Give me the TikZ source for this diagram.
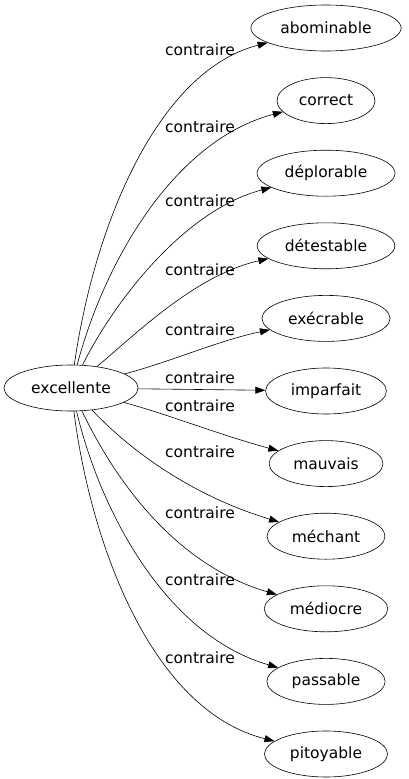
\documentclass[tikz,border=0pt]{standalone}
\usepackage{fontspec}
\setmainfont{DejaVu Sans}
\usepackage{tikz}
\usetikzlibrary{shapes.geometric, arrows.meta, positioning}

\begin{document}
\begin{tikzpicture}[
    x=1pt, y=-1pt,
    node distance=26pt,
    word/.style={ellipse, draw, inner xsep=7.5pt, minimum height=46pt, font=\fontsize{15.5}{18}\selectfont},
    arrow/.style={-{Triangle[length=10pt, width=7pt]}, line width=0.6pt},
    rel/.style={font=\fontsize{15.5}{18}\selectfont, inner sep=1pt}
]
\useasboundingbox (0,0) rectangle (408,779);

\node[word, line width=0.6pt] (exc) at (71,388) {excellente};
\node[word, line width=0.6pt] (abo) at (326,28) {abominable};
\node[word, line width=0.6pt, below=of abo] (cor) {correct};
\node[word, line width=0.6pt, below=of cor] (dep) {déplorable};
\node[word, line width=0.6pt, below=of dep] (det) {détestable};
\node[word, line width=0.6pt, below=of det] (exe) {exécrable};
\node[word, line width=0.6pt, below=of exe] (imp) {imparfait};
\node[word, line width=0.6pt, below=of imp] (mau) {mauvais};
\node[word, line width=0.6pt, below=of mau] (mec) {méchant};
\node[word, line width=0.6pt, below=of mec] (med) {médiocre};
\node[word, line width=0.6pt, below=of med] (pas) {passable};
\node[word, line width=0.6pt, below=of pas] (pit) {pitoyable};

% edge labels
\node[rel] (l1) at (200,50) {contraire};
\node[rel] (l2) at (200,127) {contraire};
\node[rel] (l3) at (200,201) {contraire};
\node[rel] (l4) at (200,270) {contraire};
\node[rel] (l5) at (200,330) {contraire};
\node[rel] (l6) at (200,378) {contraire};
\node[rel] (l7) at (200,406) {contraire};
\node[rel] (l8) at (200,452) {contraire};
\node[rel] (l9) at (200,513) {contraire};
\node[rel] (l10) at (200,580) {contraire};
\node[rel] (l11) at (200,658) {contraire};

\draw[arrow] (exc) .. controls (95,220) and (160,70) .. (abo);
\draw[arrow] (exc) .. controls (105,260) and (175,140) .. (cor);
\draw[arrow] (exc) .. controls (115,300) and (185,210) .. (dep);
\draw[arrow] (exc) .. controls (135,335) and (195,275) .. (det);
\draw[arrow] (exc) .. controls (170,362) and (220,340) .. (exe);
\draw[arrow] (exc) -- (imp);
\draw[arrow] (exc) .. controls (170,415) and (220,435) .. (mau);
\draw[arrow] (exc) .. controls (130,450) and (190,495) .. (mec);
\draw[arrow] (exc) .. controls (115,480) and (175,565) .. (med);
\draw[arrow] (exc) .. controls (100,510) and (165,635) .. (pas);
\draw[arrow] (exc) .. controls (90,540) and (150,710) .. (pit);

\end{tikzpicture}
\end{document}
